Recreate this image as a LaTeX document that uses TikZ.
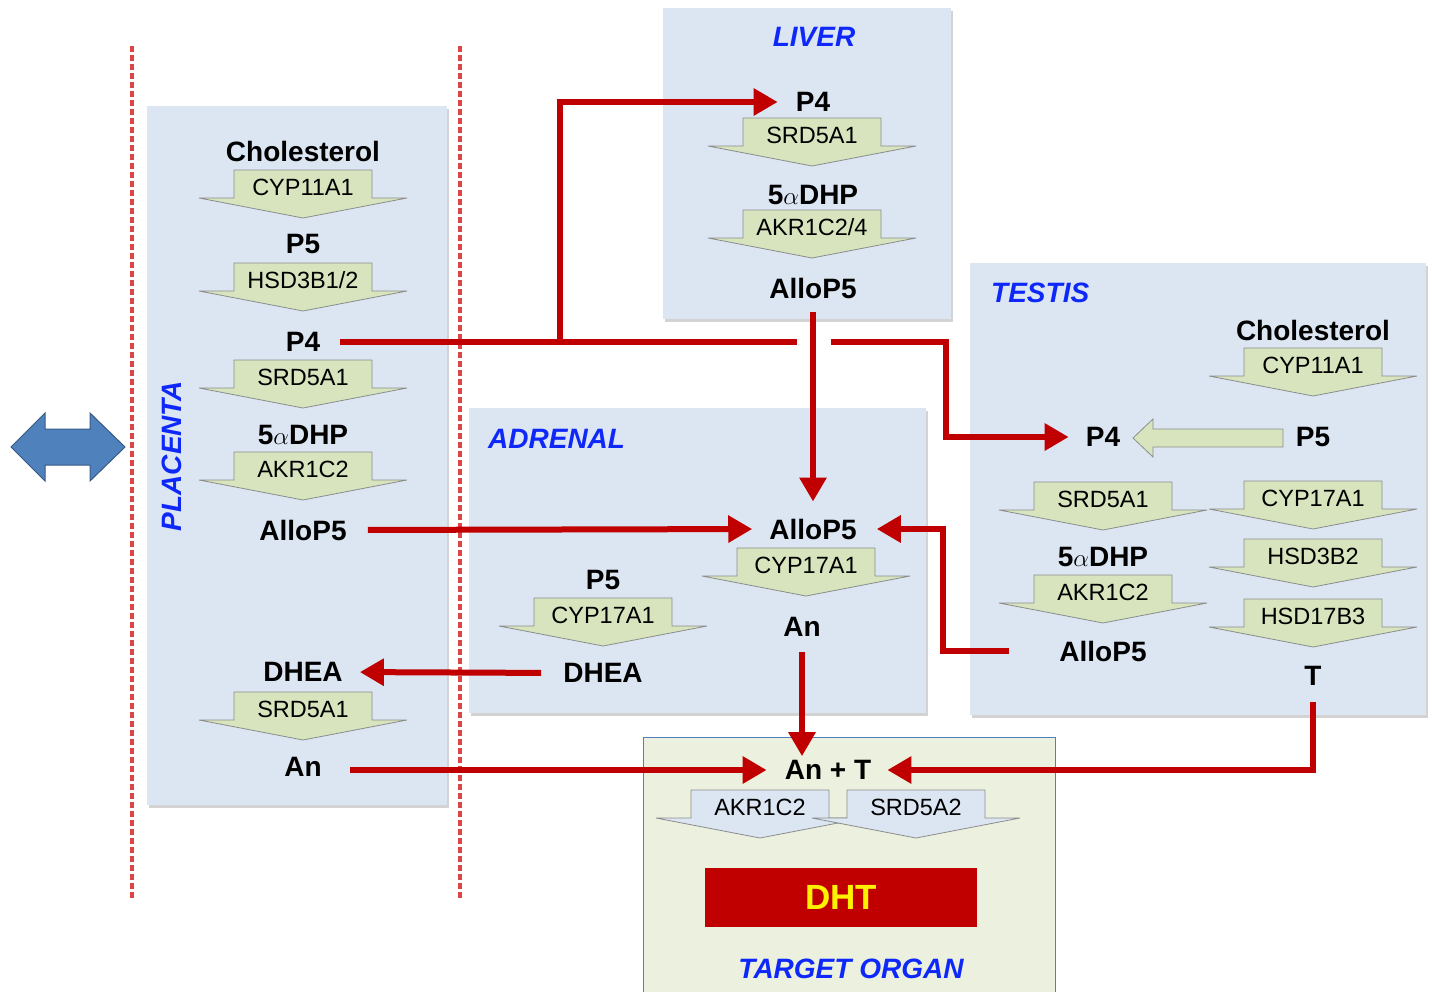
\documentclass[tikz,border=0pt]{standalone}
\usepackage{fontspec}
\setmainfont{Liberation Sans}
\usetikzlibrary{arrows.meta,shadows}

\definecolor{organfill}{RGB}{220,230,242}
\definecolor{targetfill}{RGB}{235,241,222}
\definecolor{enzgreen}{RGB}{215,228,189}
\definecolor{enzblue}{RGB}{220,230,242}
\definecolor{flowred}{RGB}{192,0,0}
\definecolor{labelblue}{RGB}{15,40,250}
\definecolor{dashred}{RGB}{222,70,70}
\definecolor{arrowblue}{RGB}{79,129,189}

% enzyme arrow: [fill]{name}{centre x}{top y}{text}
\newcommand\enzyme[5][enzgreen]{\draw[enzbox,fill=#1] (#3-69,#4) -- (#3+69,#4) -- (#3+69,#4+28) -- (#3+104,#4+28) -- (#3,#4+48) -- (#3-104,#4+28) -- (#3-69,#4+28) -- cycle;
  \node[enztext] (#2) at (#3,#4+17) {#5};}

\tikzset{
  organ/.style={fill=organfill, draw=none, drop shadow={shadow xshift=2pt,shadow yshift=-3pt,opacity=.35}},
  orglabel/.style={text=labelblue, font=\bfseries\itshape\fontsize{28}{30}\selectfont, inner sep=0pt},
  species/.style={font=\bfseries\fontsize{28}{30}\selectfont, inner sep=0pt},
  enzbox/.style={draw=black!45, line width=0.8pt},
  enztext/.style={font=\fontsize{23.5}{25}\selectfont, inner sep=0pt},
  flow/.style={draw=flowred, line width=6pt, shorten <=15pt, shorten >=17pt, -{Triangle[length=24pt,width=26pt]}},
  flowline/.style={draw=flowred, line width=6pt},
}

\begin{document}
\begin{tikzpicture}[x=1pt,y=-1pt]
	%%%%% START %%%%%
	\useasboundingbox (0,0) rectangle (1432,991);
	
	% barrier and exchange
	\draw[dashred, line width=3.5pt, dash pattern=on 6pt off 3pt] (132,46) -- (132,898);
	\draw[dashred, line width=3.5pt, dash pattern=on 6pt off 3pt] (460,46) -- (460,898);
	\draw[fill=arrowblue, draw=arrowblue!70!black, line width=1pt] (11,447) -- (45,413) -- (45,429) -- (90,429) -- (90,413) -- (125,447) -- (90,481) -- (90,465) -- (45,465) -- (45,481) -- cycle;
	
	% organ boxes
	\fill[organ] (147,106) rectangle (447,805);
	\fill[organ] (663,8) rectangle (951,319);
	\fill[organ] (469,408) rectangle (926,713);
	\fill[organ] (970,263) rectangle (1426,715);
	\draw[fill=targetfill, draw=arrowblue, line width=1pt] (643,737) rectangle (1055,1000);
	
	\node[orglabel, rotate=90] (plLab) at (172,456) {PLACENTA};
	\node[orglabel] (liLab) at (814,37) {LIVER};
	\node[orglabel, anchor=west] (adLab) at (488,439) {ADRENAL};
	\node[orglabel, anchor=west] (teLab) at (991,293) {TESTIS};
	\node[orglabel] (toLab) at (851,969) {TARGET ORGAN};
	
	% placenta
	\enzyme{plE1}{303}{170}{CYP11A1}
	\enzyme{plE2}{303}{263}{HSD3B1/2}
	\enzyme{plE3}{303}{360}{SRD5A1}
	\enzyme{plE4}{303}{452}{AKR1C2}
	\enzyme{plE5}{303}{692}{SRD5A1}
	\node[species] (plChol) at (303,151) {Cholesterol};
	\node[species] (plP5) at (303,244) {P5};
	\node[species] (plP4) at (303,342) {P4};
	\node[species] (pl5a) at (303,435) {5$\alpha$DHP};
	\node[species] (plAllo) at (303,530) {AlloP5};
	\node[species] (plDHEA) at (303,672) {DHEA};
	\node[species] (plAn) at (303,767) {An};
	
	% liver
	\enzyme{liE1}{812}{118}{SRD5A1}
	\enzyme{liE2}{812}{210}{AKR1C2/4}
	\node[species] (liP4) at (813,102) {P4};
	\node[species] (li5a) at (813,195) {5$\alpha$DHP};
	\node[species] (liAllo) at (813,288) {AlloP5};
	
	% adrenal
	\enzyme{adE1}{806}{548}{CYP17A1}
	\enzyme{adE2}{603}{598}{CYP17A1}
	\node[species] (adAllo) at (813,529) {AlloP5};
	\node[species] (adAn) at (802,627) {An};
	\node[species] (adP5) at (603,580) {P5};
	\node[species] (adDHEA) at (603,673) {DHEA};
	
	% testis
	\enzyme{teE1}{1313}{348}{CYP11A1}
	\enzyme{teE2}{1103}{482}{SRD5A1}
	\enzyme{teE3}{1313}{481}{CYP17A1}
	\enzyme{teE4}{1103}{575}{AKR1C2}
	\enzyme{teE5}{1313}{539}{HSD3B2}
	\enzyme{teE6}{1313}{599}{HSD17B3}
	\node[species] (teChol) at (1313,330) {Cholesterol};
	\node[species] (teP4) at (1103,437) {P4};
	\node[species] (teP5) at (1313,437) {P5};
	\node[species] (te5a) at (1103,557) {5$\alpha$DHP};
	\node[species] (teAllo) at (1103,651) {AlloP5};
	\node[species] (teT) at (1313,676) {T};
	\draw[enzbox, fill=enzgreen] (1283,429) -- (1153,429) -- (1153,419) -- (1133,438) -- (1153,457) -- (1153,447) -- (1283,447) -- cycle;
	
	% target organ
	\enzyme[enzblue]{toE1}{760}{790}{AKR1C2}
	\enzyme[enzblue]{toE2}{916}{790}{SRD5A2}
	\node[species] (toAnT) at (828,770) {An + T};
	\node[fill=flowred, minimum width=272pt, minimum height=59pt, text=yellow, font=\bfseries\fontsize{35}{37}\selectfont] (toDHT) at (841,897.5) {DHT};
	
	% red routes
	\coordinate (jn) at (560,342);
	\coordinate (brL) at (797,342);
	\coordinate (brR) at (831,342);
	\coordinate (teIn) at (946,342);
	\coordinate (teBack) at (943,529);
	\draw[flowline, shorten <=20pt] (plP4.east) -- (brL);
	\draw[flow, shorten <=0pt, shorten >=18pt] (jn) |- (liP4.west);
	\draw[flow, shorten <=0pt] (brR) -- (teIn) |- (teP4.west);
	\draw[flow, shorten <=14pt] (liAllo.south) -- (adAllo.north);
	\draw[flow, shorten <=21pt] (plAllo.east) -- (adAllo.west);
	\draw[flow, shorten <=50pt, shorten >=20pt] (teAllo.west) -| (teBack) -- (adAllo.east);
	\draw[flow, shorten <=22pt] (adDHEA.west) -- (plDHEA.east);
	\draw[flow, shorten >=4pt] (adAn.south) -- (adAn.south |- toAnT.north);
	\draw[flow, shorten <=28pt, shorten >=18pt] (plAn.east |- toAnT.west) -- (toAnT.west);
	\draw[flow, shorten <=16pt, shorten >=16pt] (teT.south) |- (toAnT.east);
	%%%%% END %%%%%
\end{tikzpicture}
\end{document}
